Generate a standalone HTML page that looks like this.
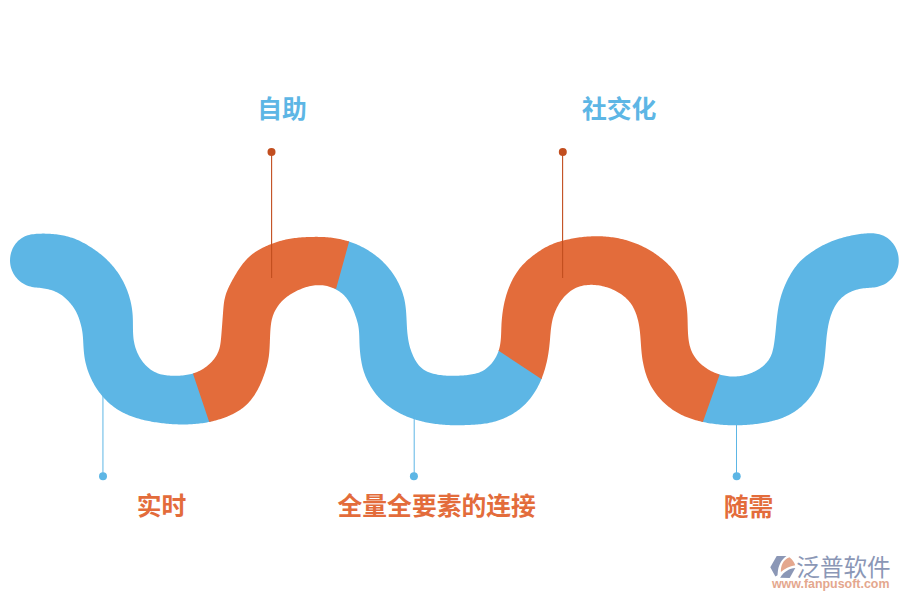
<!DOCTYPE html>
<html><head><meta charset="utf-8"><title>wave</title>
<style>html,body{margin:0;padding:0;background:#fff}body{width:900px;height:600px;overflow:hidden;font-family:"Liberation Sans","Noto Sans CJK SC",sans-serif}svg{display:block}text{font-family:"Liberation Sans","Noto Sans CJK SC",sans-serif}</style>
</head><body>
<svg width="900" height="600" viewBox="0 0 900 600">
<rect width="900" height="600" fill="#fff"/>
<path fill="#5db6e5" d="M211.3 421.49 L209.84 421.81 L208.37 422.11 L206.89 422.39 L205.42 422.66 L203.93 422.9 L202.45 423.13 L200.96 423.33 L199.48 423.52 L197.99 423.69 L196.49 423.85 L195 423.98 L193.5 424.1 L192 424.2 L190.51 424.29 L189.01 424.36 L187.51 424.41 L186.01 424.45 L184.51 424.47 L183.01 424.48 L181.51 424.47 L180 424.45 L178.5 424.41 L177 424.36 L175.51 424.3 L174.01 424.22 L172.51 424.13 L171.01 424.03 L169.51 423.91 L168.02 423.78 L166.53 423.64 L165.03 423.5 L163.54 423.33 L162.05 423.16 L160.56 422.98 L159.07 422.79 L157.58 422.58 L156.1 422.37 L154.62 422.14 L153.14 421.89 L151.66 421.64 L150.18 421.37 L148.71 421.08 L147.24 420.78 L145.77 420.47 L144.31 420.13 L142.85 419.78 L141.39 419.41 L139.94 419.02 L138.5 418.61 L137.06 418.18 L135.63 417.74 L134.2 417.26 L132.79 416.77 L131.38 416.25 L129.98 415.71 L128.59 415.15 L127.21 414.56 L125.84 413.95 L124.48 413.3 L123.14 412.64 L121.81 411.94 L120.49 411.22 L119.19 410.47 L117.91 409.69 L116.65 408.88 L115.4 408.04 L114.18 407.17 L112.98 406.27 L111.79 405.35 L110.63 404.4 L109.49 403.42 L108.38 402.42 L107.28 401.39 L106.21 400.34 L105.16 399.27 L104.13 398.18 L103.13 397.06 L102.15 395.92 L101.19 394.77 L100.26 393.59 L99.35 392.4 L98.46 391.19 L97.6 389.96 L96.76 388.72 L95.94 387.46 L95.15 386.18 L94.38 384.89 L93.64 383.59 L92.92 382.27 L92.23 380.94 L91.56 379.6 L90.92 378.24 L90.3 376.87 L89.71 375.5 L89.14 374.11 L88.6 372.71 L88.09 371.3 L87.6 369.88 L87.14 368.45 L86.71 367.01 L86.3 365.57 L85.92 364.11 L85.57 362.66 L85.25 361.19 L84.96 359.72 L84.7 358.24 L84.46 356.76 L84.26 355.27 L84.08 353.78 L83.92 352.29 L83.78 350.79 L83.66 349.3 L83.55 347.8 L83.46 346.3 L83.37 344.8 L83.29 343.3 L83.21 341.79 L83.13 340.28 L83.04 338.78 L82.93 337.26 L82.8 335.75 L82.65 334.22 L82.47 332.7 L82.24 331.17 L81.98 329.65 L81.66 328.12 L81.3 326.6 L80.92 325.09 L80.51 323.57 L80.09 322.06 L79.64 320.56 L79.16 319.08 L78.65 317.62 L78.11 316.18 L77.53 314.77 L76.91 313.4 L76.25 312.06 L75.55 310.75 L74.8 309.48 L74.02 308.24 L73.2 307.03 L72.34 305.85 L71.44 304.69 L70.52 303.55 L69.56 302.44 L68.57 301.34 L67.55 300.27 L66.49 299.22 L65.41 298.2 L64.28 297.21 L63.13 296.26 L61.93 295.35 L60.71 294.49 L59.44 293.68 L58.13 292.94 L56.79 292.26 L55.43 291.64 L54.03 291.08 L52.62 290.57 L51.19 290.12 L49.75 289.71 L48.29 289.35 L46.82 289.02 L45.35 288.74 L43.87 288.48 L42.39 288.25 L40.9 288.05 L39.41 287.87 L37.92 287.71 L36.43 287.56 L34.93 287.41 L33.45 287.22 L31.97 286.95 L30.51 286.62 L29.06 286.2 L27.65 285.71 L26.26 285.15 L24.9 284.51 L23.57 283.8 L22.29 283.02 L21.06 282.17 L19.87 281.25 L18.74 280.27 L17.67 279.22 L16.65 278.11 L15.7 276.95 L14.82 275.74 L14 274.48 L13.25 273.18 L12.57 271.84 L11.97 270.47 L11.45 269.06 L11 267.63 L10.64 266.17 L10.36 264.7 L10.17 263.21 L10.05 261.71 L10.02 260.21 L10.07 258.72 L10.2 257.22 L10.41 255.74 L10.7 254.27 L11.06 252.82 L11.51 251.39 L12.03 249.98 L12.62 248.61 L13.3 247.28 L14.04 245.99 L14.86 244.75 L15.75 243.56 L16.71 242.42 L17.72 241.35 L18.8 240.34 L19.93 239.39 L21.12 238.52 L22.35 237.72 L23.63 237 L24.96 236.36 L26.32 235.8 L27.72 235.32 L29.14 234.93 L30.59 234.6 L32.05 234.34 L33.53 234.14 L35.02 233.98 L36.51 233.85 L38.01 233.76 L39.51 233.7 L41.01 233.65 L42.52 233.62 L44.02 233.62 L45.53 233.63 L47.03 233.66 L48.54 233.71 L50.04 233.78 L51.54 233.88 L53.03 234 L54.53 234.14 L56.02 234.31 L57.51 234.5 L58.99 234.72 L60.47 234.96 L61.95 235.23 L63.42 235.52 L64.88 235.84 L66.34 236.19 L67.79 236.56 L69.23 236.97 L70.66 237.4 L72.09 237.86 L73.5 238.35 L74.9 238.87 L76.29 239.42 L77.67 240.01 L79.04 240.62 L80.4 241.27 L81.74 241.94 L83.08 242.64 L84.41 243.36 L85.73 244.11 L87.04 244.87 L88.34 245.65 L89.63 246.45 L90.91 247.27 L92.19 248.11 L93.45 248.96 L94.71 249.82 L95.96 250.7 L97.19 251.59 L98.41 252.5 L99.62 253.43 L100.81 254.37 L101.98 255.33 L103.14 256.31 L104.28 257.31 L105.4 258.32 L106.51 259.35 L107.59 260.4 L108.66 261.47 L109.7 262.55 L110.73 263.65 L111.73 264.77 L112.72 265.91 L113.68 267.06 L114.62 268.23 L115.54 269.42 L116.44 270.63 L117.31 271.85 L118.16 273.08 L118.99 274.33 L119.8 275.6 L120.59 276.88 L121.35 278.17 L122.09 279.47 L122.8 280.79 L123.5 282.12 L124.17 283.47 L124.81 284.82 L125.43 286.19 L126.03 287.56 L126.61 288.95 L127.16 290.35 L127.68 291.75 L128.18 293.17 L128.66 294.59 L129.11 296.02 L129.54 297.46 L129.95 298.9 L130.32 300.36 L130.67 301.82 L131 303.28 L131.3 304.75 L131.58 306.23 L131.83 307.71 L132.05 309.19 L132.24 310.68 L132.41 312.17 L132.55 313.66 L132.67 315.16 L132.76 316.66 L132.82 318.16 L132.87 319.66 L132.9 321.16 L132.92 322.66 L132.93 324.16 L132.94 325.66 L132.96 327.16 L132.98 328.66 L133 330.16 L133.04 331.66 L133.1 333.16 L133.19 334.66 L133.29 336.16 L133.43 337.65 L133.6 339.14 L133.82 340.63 L134.07 342.11 L134.37 343.58 L134.71 345.04 L135.1 346.49 L135.54 347.92 L136.02 349.35 L136.54 350.75 L137.11 352.14 L137.72 353.51 L138.37 354.86 L139.07 356.19 L139.81 357.5 L140.59 358.78 L141.42 360.03 L142.29 361.25 L143.2 362.44 L144.16 363.6 L145.16 364.72 L146.21 365.79 L147.29 366.83 L148.42 367.82 L149.59 368.76 L150.8 369.65 L152.05 370.48 L153.33 371.25 L154.65 371.96 L156.01 372.61 L157.39 373.19 L158.8 373.7 L160.24 374.14 L161.69 374.52 L163.16 374.84 L164.63 375.11 L166.12 375.32 L167.61 375.49 L169.1 375.62 L170.6 375.72 L172.1 375.78 L173.6 375.8 L175.1 375.8 L176.6 375.78 L178.1 375.73 L179.6 375.66 L181.1 375.56 L182.59 375.44 L184.09 375.28 L185.58 375.08 L187.06 374.85 L188.53 374.57 L190 374.25 L191.45 373.89 L192.9 373.47 L194.32 373.01ZM348.14 241.25 L349.57 241.71 L350.99 242.2 L352.4 242.71 L353.8 243.24 L355.2 243.79 L356.58 244.37 L357.96 244.97 L359.32 245.59 L360.68 246.24 L362.02 246.91 L363.35 247.6 L364.67 248.31 L365.98 249.05 L367.28 249.81 L368.56 250.59 L369.83 251.39 L371.08 252.21 L372.32 253.06 L373.54 253.93 L374.75 254.82 L375.95 255.73 L377.12 256.66 L378.28 257.61 L379.43 258.58 L380.55 259.58 L381.66 260.59 L382.75 261.62 L383.81 262.68 L384.86 263.75 L385.89 264.84 L386.9 265.96 L387.89 267.09 L388.85 268.24 L389.79 269.4 L390.72 270.59 L391.62 271.79 L392.49 273.01 L393.35 274.24 L394.17 275.49 L394.98 276.76 L395.76 278.04 L396.52 279.34 L397.25 280.65 L397.95 281.97 L398.63 283.31 L399.29 284.66 L399.91 286.02 L400.51 287.4 L401.08 288.79 L401.62 290.19 L402.13 291.6 L402.61 293.02 L403.06 294.45 L403.48 295.89 L403.87 297.34 L404.22 298.8 L404.55 300.27 L404.84 301.74 L405.09 303.22 L405.32 304.7 L405.53 306.19 L405.71 307.68 L405.87 309.17 L406.01 310.67 L406.13 312.16 L406.24 313.66 L406.33 315.16 L406.42 316.65 L406.5 318.15 L406.57 319.65 L406.65 321.15 L406.72 322.65 L406.79 324.15 L406.87 325.65 L406.96 327.14 L407.05 328.64 L407.15 330.14 L407.27 331.64 L407.41 333.13 L407.56 334.62 L407.74 336.11 L407.93 337.6 L408.16 339.09 L408.41 340.57 L408.69 342.04 L409 343.52 L409.35 344.98 L409.73 346.44 L410.14 347.89 L410.59 349.33 L411.08 350.77 L411.6 352.19 L412.16 353.61 L412.75 355.01 L413.38 356.4 L414.04 357.78 L414.74 359.13 L415.49 360.46 L416.28 361.76 L417.12 363.02 L418.01 364.24 L418.97 365.4 L419.98 366.51 L421.06 367.55 L422.21 368.52 L423.42 369.42 L424.69 370.24 L426.01 370.99 L427.39 371.66 L428.8 372.25 L430.24 372.78 L431.71 373.25 L433.19 373.66 L434.69 374.03 L436.19 374.35 L437.69 374.63 L439.19 374.88 L440.7 375.09 L442.2 375.28 L443.7 375.43 L445.2 375.56 L446.71 375.67 L448.21 375.75 L449.71 375.8 L451.21 375.83 L452.71 375.83 L454.22 375.82 L455.72 375.78 L457.22 375.73 L458.72 375.67 L460.21 375.58 L461.71 375.49 L463.21 375.39 L464.71 375.27 L466.2 375.14 L467.69 374.99 L469.18 374.82 L470.67 374.61 L472.15 374.37 L473.63 374.09 L475.09 373.75 L476.54 373.36 L477.97 372.92 L479.38 372.4 L480.76 371.82 L482.11 371.16 L483.42 370.43 L484.69 369.63 L485.92 368.77 L487.1 367.85 L488.24 366.87 L489.34 365.84 L490.38 364.77 L491.39 363.65 L492.34 362.49 L493.25 361.3 L494.11 360.07 L494.91 358.8 L495.67 357.51 L496.38 356.18 L497.04 354.83 L497.64 353.46 L498.19 352.06 L498.68 350.65 L499.11 349.21 L541.78 378.14 L541.22 379.53 L540.63 380.91 L540.02 382.28 L539.39 383.65 L538.73 385 L538.05 386.33 L537.35 387.66 L536.62 388.97 L535.87 390.27 L535.09 391.55 L534.29 392.82 L533.46 394.07 L532.61 395.31 L531.73 396.52 L530.82 397.72 L529.89 398.9 L528.94 400.05 L527.95 401.19 L526.95 402.3 L525.91 403.39 L524.85 404.45 L523.77 405.49 L522.66 406.5 L521.53 407.49 L520.37 408.44 L519.2 409.38 L518 410.28 L516.78 411.16 L515.55 412.01 L514.3 412.84 L513.02 413.64 L511.74 414.41 L510.43 415.15 L509.12 415.87 L507.78 416.56 L506.44 417.22 L505.08 417.85 L503.7 418.46 L502.32 419.03 L500.92 419.58 L499.51 420.1 L498.09 420.59 L496.66 421.05 L495.23 421.48 L493.78 421.87 L492.32 422.24 L490.86 422.57 L489.39 422.87 L487.91 423.15 L486.43 423.4 L484.95 423.62 L483.46 423.82 L481.97 424 L480.48 424.16 L478.99 424.3 L477.49 424.43 L475.99 424.54 L474.5 424.65 L473 424.74 L471.5 424.83 L470 424.91 L468.5 424.98 L467 425.05 L465.5 425.1 L464 425.15 L462.5 425.19 L461 425.22 L459.5 425.24 L458 425.25 L456.5 425.25 L455 425.23 L453.5 425.21 L452 425.17 L450.5 425.13 L449 425.07 L447.5 424.99 L446 424.91 L444.51 424.81 L443.01 424.7 L441.51 424.57 L440.02 424.43 L438.53 424.27 L437.04 424.1 L435.55 423.91 L434.06 423.71 L432.58 423.49 L431.09 423.25 L429.62 423 L428.14 422.73 L426.67 422.44 L425.2 422.14 L423.73 421.81 L422.27 421.47 L420.82 421.11 L419.36 420.72 L417.92 420.32 L416.48 419.9 L415.04 419.46 L413.61 419 L412.19 418.52 L410.78 418.02 L409.37 417.49 L407.97 416.95 L406.58 416.38 L405.2 415.8 L403.83 415.19 L402.47 414.56 L401.12 413.91 L399.78 413.23 L398.45 412.53 L397.13 411.81 L395.83 411.07 L394.54 410.3 L393.26 409.51 L392 408.7 L390.76 407.86 L389.53 406.99 L388.32 406.1 L387.13 405.19 L385.96 404.25 L384.81 403.28 L383.68 402.29 L382.57 401.28 L381.48 400.24 L380.42 399.17 L379.38 398.08 L378.37 396.96 L377.38 395.81 L376.42 394.65 L375.48 393.46 L374.57 392.25 L373.68 391.02 L372.81 389.77 L371.97 388.5 L371.15 387.21 L370.36 385.91 L369.59 384.59 L368.85 383.26 L368.13 381.91 L367.44 380.56 L366.78 379.19 L366.16 377.8 L365.56 376.41 L365 375.01 L364.47 373.6 L363.98 372.18 L363.53 370.76 L363.1 369.32 L362.71 367.88 L362.35 366.43 L362.02 364.98 L361.71 363.52 L361.44 362.06 L361.18 360.59 L360.94 359.11 L360.73 357.64 L360.53 356.16 L360.35 354.67 L360.19 353.19 L360.04 351.7 L359.9 350.2 L359.78 348.71 L359.68 347.22 L359.59 345.72 L359.52 344.22 L359.46 342.72 L359.42 341.22 L359.38 339.72 L359.33 338.22 L359.29 336.72 L359.23 335.22 L359.16 333.72 L359.06 332.23 L358.94 330.73 L358.79 329.24 L358.6 327.75 L358.36 326.27 L358.08 324.79 L357.75 323.33 L357.37 321.88 L356.96 320.43 L356.52 319 L356.06 317.57 L355.58 316.15 L355.08 314.73 L354.57 313.32 L354.04 311.92 L353.48 310.53 L352.9 309.14 L352.29 307.77 L351.65 306.41 L350.97 305.07 L350.26 303.75 L349.51 302.45 L348.72 301.18 L347.88 299.93 L347 298.72 L346.07 297.54 L345.08 296.41 L344.05 295.33 L342.96 294.29 L341.83 293.31 L340.65 292.38 L339.43 291.5 L338.18 290.67 L336.89 289.9 L335.57 289.19 L334.22 288.53ZM718.28 374.06 L719.71 374.51 L721.15 374.92 L722.61 375.28 L724.07 375.6 L725.55 375.87 L727.03 376.09 L728.52 376.27 L730.02 376.39 L731.52 376.48 L733.02 376.51 L734.52 376.5 L736.02 376.44 L737.52 376.33 L739.01 376.18 L740.49 375.97 L741.97 375.73 L743.45 375.43 L744.91 375.09 L746.36 374.71 L747.8 374.27 L749.22 373.8 L750.63 373.27 L752.02 372.71 L753.39 372.1 L754.74 371.45 L756.07 370.76 L757.38 370.02 L758.66 369.24 L759.91 368.42 L761.14 367.55 L762.32 366.63 L763.48 365.67 L764.58 364.66 L765.65 363.6 L766.66 362.49 L767.61 361.33 L768.51 360.13 L769.34 358.87 L770.09 357.58 L770.77 356.24 L771.37 354.86 L771.89 353.45 L772.34 352.02 L772.73 350.58 L773.08 349.12 L773.39 347.65 L773.66 346.17 L773.91 344.69 L774.15 343.21 L774.37 341.73 L774.58 340.24 L774.77 338.75 L774.95 337.26 L775.12 335.77 L775.29 334.28 L775.44 332.79 L775.6 331.29 L775.74 329.8 L775.88 328.31 L776.02 326.81 L776.17 325.32 L776.31 323.82 L776.45 322.33 L776.6 320.84 L776.76 319.34 L776.92 317.85 L777.09 316.36 L777.27 314.87 L777.46 313.38 L777.66 311.9 L777.88 310.41 L778.12 308.93 L778.37 307.45 L778.64 305.97 L778.93 304.5 L779.24 303.03 L779.58 301.57 L779.94 300.11 L780.32 298.66 L780.72 297.21 L781.14 295.78 L781.59 294.34 L782.05 292.92 L782.54 291.5 L783.05 290.08 L783.58 288.68 L784.13 287.29 L784.7 285.9 L785.3 284.52 L785.91 283.15 L786.55 281.79 L787.21 280.44 L787.88 279.1 L788.58 277.78 L789.3 276.46 L790.04 275.15 L790.8 273.86 L791.59 272.58 L792.39 271.31 L793.21 270.06 L794.06 268.82 L794.93 267.59 L795.82 266.39 L796.74 265.2 L797.69 264.04 L798.67 262.91 L799.69 261.8 L800.74 260.73 L801.83 259.7 L802.95 258.7 L804.09 257.72 L805.26 256.78 L806.44 255.86 L807.64 254.96 L808.85 254.07 L810.07 253.2 L811.3 252.34 L812.54 251.49 L813.78 250.65 L815.04 249.83 L816.31 249.03 L817.59 248.25 L818.89 247.49 L820.19 246.75 L821.51 246.04 L822.84 245.34 L824.18 244.67 L825.54 244.02 L826.9 243.38 L828.27 242.77 L829.65 242.18 L831.03 241.61 L832.43 241.06 L833.83 240.53 L835.24 240.02 L836.66 239.53 L838.09 239.05 L839.52 238.6 L840.95 238.16 L842.4 237.75 L843.84 237.35 L845.29 236.97 L846.75 236.61 L848.21 236.26 L849.68 235.93 L851.14 235.62 L852.61 235.32 L854.09 235.04 L855.57 234.78 L857.05 234.53 L858.53 234.3 L860.01 234.08 L861.5 233.87 L862.99 233.69 L864.48 233.52 L865.98 233.39 L867.47 233.29 L868.97 233.22 L870.47 233.2 L871.97 233.23 L873.47 233.31 L874.97 233.45 L876.45 233.66 L877.93 233.94 L879.38 234.29 L880.82 234.73 L882.23 235.24 L883.6 235.85 L884.94 236.53 L886.23 237.29 L887.48 238.12 L888.68 239.03 L889.82 240 L890.9 241.04 L891.92 242.14 L892.88 243.3 L893.76 244.51 L894.58 245.76 L895.33 247.07 L896.01 248.4 L896.61 249.78 L897.14 251.18 L897.6 252.61 L897.97 254.06 L898.28 255.53 L898.5 257.02 L898.65 258.51 L898.72 260.01 L898.71 261.51 L898.61 263.01 L898.43 264.5 L898.17 265.97 L897.82 267.43 L897.39 268.87 L896.88 270.28 L896.29 271.66 L895.62 273 L894.88 274.31 L894.07 275.57 L893.19 276.79 L892.25 277.96 L891.24 279.07 L890.17 280.12 L889.04 281.11 L887.86 282.03 L886.63 282.89 L885.35 283.67 L884.03 284.39 L882.67 285.04 L881.29 285.61 L879.88 286.12 L878.44 286.56 L876.99 286.92 L875.51 287.22 L874.03 287.44 L872.54 287.61 L871.04 287.74 L869.55 287.84 L868.05 287.93 L866.55 288.02 L865.06 288.14 L863.56 288.29 L862.08 288.49 L860.6 288.74 L859.13 289.04 L857.67 289.39 L856.22 289.79 L854.79 290.24 L853.37 290.74 L851.98 291.29 L850.6 291.9 L849.25 292.55 L847.93 293.26 L846.63 294.01 L845.37 294.83 L844.15 295.7 L842.97 296.63 L841.84 297.61 L840.75 298.65 L839.72 299.73 L838.73 300.86 L837.8 302.04 L836.91 303.25 L836.07 304.5 L835.29 305.77 L834.54 307.08 L833.84 308.4 L833.19 309.75 L832.57 311.12 L832 312.51 L831.46 313.91 L830.95 315.32 L830.48 316.75 L830.05 318.18 L829.64 319.63 L829.26 321.08 L828.91 322.54 L828.58 324 L828.28 325.47 L828.01 326.95 L827.75 328.43 L827.51 329.91 L827.29 331.39 L827.09 332.88 L826.91 334.37 L826.73 335.86 L826.57 337.35 L826.42 338.85 L826.28 340.34 L826.14 341.83 L826.01 343.33 L825.89 344.83 L825.76 346.32 L825.64 347.82 L825.51 349.31 L825.39 350.81 L825.25 352.3 L825.12 353.8 L824.97 355.29 L824.82 356.78 L824.65 358.27 L824.47 359.76 L824.28 361.25 L824.07 362.74 L823.84 364.22 L823.59 365.7 L823.33 367.18 L823.04 368.65 L822.72 370.12 L822.38 371.58 L822.01 373.03 L821.62 374.48 L821.19 375.92 L820.73 377.35 L820.23 378.77 L819.71 380.17 L819.15 381.56 L818.56 382.94 L817.94 384.31 L817.28 385.66 L816.6 387 L815.89 388.32 L815.15 389.62 L814.38 390.91 L813.58 392.18 L812.75 393.44 L811.9 394.67 L811.02 395.89 L810.12 397.09 L809.19 398.26 L808.23 399.42 L807.25 400.56 L806.25 401.67 L805.22 402.76 L804.16 403.83 L803.08 404.87 L801.98 405.89 L800.86 406.89 L799.71 407.85 L798.54 408.79 L797.35 409.7 L796.13 410.59 L794.9 411.44 L793.64 412.26 L792.37 413.05 L791.07 413.8 L789.76 414.53 L788.42 415.22 L787.07 415.87 L785.71 416.5 L784.33 417.1 L782.94 417.66 L781.54 418.2 L780.13 418.71 L778.71 419.19 L777.28 419.65 L775.84 420.08 L774.4 420.49 L772.95 420.87 L771.49 421.24 L770.03 421.58 L768.56 421.9 L767.09 422.21 L765.62 422.49 L764.15 422.76 L762.67 423.01 L761.18 423.25 L759.7 423.47 L758.21 423.68 L756.73 423.88 L755.24 424.07 L753.75 424.24 L752.25 424.4 L750.76 424.55 L749.27 424.68 L747.77 424.8 L746.27 424.91 L744.78 425 L743.28 425.08 L741.78 425.15 L740.28 425.2 L738.78 425.24 L737.28 425.27 L735.78 425.28 L734.28 425.28 L732.78 425.27 L731.27 425.24 L729.77 425.19 L728.28 425.14 L726.78 425.07 L725.28 424.98 L723.78 424.88 L722.28 424.77 L720.79 424.65 L719.29 424.51 L717.8 424.35 L716.31 424.19 L714.82 424.01 L713.33 423.81 L711.85 423.6 L710.36 423.38 L708.88 423.14 L707.4 422.88 L705.93 422.61 L704.45 422.32 L702.98 422.01 L701.52 421.68Z"/>
<path fill="#e36c3b" d="M193 373.7 L194.32 373.01 L195.74 372.5 L197.13 371.94 L198.5 371.34 L199.85 370.68 L201.18 369.98 L202.48 369.24 L203.76 368.45 L205.01 367.62 L206.23 366.75 L207.42 365.83 L208.57 364.87 L209.69 363.86 L210.76 362.82 L211.8 361.74 L212.8 360.61 L213.74 359.45 L214.64 358.25 L215.49 357.01 L216.29 355.74 L217.02 354.43 L217.7 353.09 L218.3 351.72 L218.83 350.31 L219.29 348.89 L219.68 347.44 L220.01 345.97 L220.29 344.5 L220.52 343.01 L220.72 341.53 L220.88 340.04 L221.03 338.54 L221.17 337.05 L221.3 335.55 L221.42 334.06 L221.54 332.56 L221.66 331.07 L221.78 329.57 L221.9 328.07 L222.01 326.58 L222.13 325.08 L222.24 323.59 L222.35 322.09 L222.46 320.6 L222.57 319.11 L222.68 317.61 L222.79 316.12 L222.89 314.63 L223 313.14 L223.1 311.65 L223.22 310.17 L223.34 308.68 L223.47 307.2 L223.61 305.72 L223.78 304.24 L223.98 302.77 L224.2 301.3 L224.47 299.84 L224.78 298.38 L225.13 296.92 L225.53 295.47 L225.97 294.03 L226.47 292.6 L227.01 291.17 L227.58 289.75 L228.2 288.34 L228.85 286.94 L229.52 285.55 L230.22 284.17 L230.93 282.79 L231.66 281.43 L232.4 280.07 L233.15 278.72 L233.91 277.39 L234.68 276.06 L235.46 274.74 L236.26 273.42 L237.06 272.12 L237.88 270.83 L238.71 269.55 L239.56 268.28 L240.43 267.02 L241.31 265.78 L242.22 264.55 L243.15 263.35 L244.1 262.17 L245.08 261.01 L246.08 259.89 L247.12 258.79 L248.19 257.73 L249.28 256.7 L250.41 255.72 L251.57 254.76 L252.76 253.85 L253.97 252.96 L255.21 252.11 L256.47 251.3 L257.76 250.51 L259.06 249.75 L260.38 249.02 L261.71 248.31 L263.06 247.62 L264.41 246.96 L265.78 246.31 L267.16 245.69 L268.54 245.09 L269.94 244.51 L271.34 243.94 L272.75 243.4 L274.16 242.89 L275.58 242.39 L277.01 241.92 L278.45 241.48 L279.89 241.05 L281.34 240.65 L282.79 240.28 L284.25 239.93 L285.72 239.6 L287.19 239.3 L288.66 239.01 L290.14 238.75 L291.62 238.51 L293.11 238.29 L294.6 238.09 L296.09 237.91 L297.58 237.74 L299.07 237.59 L300.57 237.46 L302.06 237.34 L303.56 237.24 L305.06 237.15 L306.56 237.08 L308.05 237.02 L309.55 236.97 L311.06 236.93 L312.56 236.9 L314.06 236.88 L315.56 236.87 L317.06 236.87 L318.56 236.88 L320.06 236.91 L321.56 236.95 L323.06 237.01 L324.56 237.09 L326.06 237.18 L327.55 237.29 L329.05 237.42 L330.54 237.57 L332.03 237.75 L333.52 237.94 L335 238.17 L336.48 238.41 L337.96 238.68 L339.43 238.98 L340.9 239.3 L342.36 239.64 L343.81 240.01 L345.26 240.4 L346.7 240.81 L348.14 241.25 L349.2 241.3 L336.1 288.8 L334.22 288.53 L332.85 287.93 L331.45 287.39 L330.03 286.9 L328.59 286.48 L327.13 286.11 L325.67 285.8 L324.19 285.55 L322.7 285.37 L321.2 285.24 L319.7 285.18 L318.2 285.18 L316.7 285.23 L315.2 285.35 L313.71 285.52 L312.22 285.74 L310.74 286.01 L309.26 286.33 L307.8 286.69 L306.34 287.1 L304.9 287.55 L303.46 288.04 L302.04 288.56 L300.63 289.13 L299.22 289.73 L297.83 290.36 L296.45 291.02 L295.09 291.72 L293.73 292.44 L292.39 293.2 L291.08 293.99 L289.78 294.82 L288.5 295.67 L287.26 296.57 L286.05 297.5 L284.87 298.47 L283.73 299.48 L282.64 300.52 L281.58 301.6 L280.57 302.71 L279.61 303.85 L278.69 305.02 L277.82 306.21 L277 307.44 L276.22 308.7 L275.49 309.98 L274.81 311.28 L274.18 312.61 L273.6 313.97 L273.07 315.35 L272.6 316.75 L272.18 318.17 L271.82 319.61 L271.51 321.06 L271.24 322.52 L271.02 324 L270.83 325.48 L270.66 326.96 L270.53 328.45 L270.41 329.94 L270.31 331.44 L270.22 332.93 L270.15 334.43 L270.08 335.93 L270.02 337.43 L269.96 338.92 L269.9 340.42 L269.85 341.92 L269.79 343.42 L269.72 344.92 L269.65 346.42 L269.57 347.92 L269.48 349.42 L269.37 350.91 L269.25 352.41 L269.1 353.9 L268.94 355.39 L268.74 356.88 L268.53 358.37 L268.28 359.85 L268 361.32 L267.69 362.79 L267.34 364.25 L266.97 365.7 L266.57 367.15 L266.15 368.59 L265.7 370.02 L265.25 371.45 L264.78 372.88 L264.29 374.3 L263.79 375.71 L263.28 377.12 L262.75 378.53 L262.2 379.92 L261.63 381.31 L261.04 382.69 L260.44 384.07 L259.81 385.43 L259.16 386.78 L258.49 388.12 L257.79 389.45 L257.07 390.77 L256.32 392.07 L255.55 393.36 L254.75 394.63 L253.92 395.88 L253.07 397.11 L252.18 398.32 L251.26 399.51 L250.31 400.67 L249.33 401.81 L248.32 402.92 L247.28 404 L246.2 405.04 L245.09 406.05 L243.95 407.03 L242.78 407.97 L241.58 408.87 L240.36 409.74 L239.11 410.57 L237.83 411.36 L236.54 412.12 L235.23 412.85 L233.9 413.55 L232.56 414.22 L231.2 414.86 L229.83 415.48 L228.46 416.07 L227.07 416.64 L225.67 417.18 L224.26 417.7 L222.84 418.2 L221.42 418.68 L219.99 419.14 L218.56 419.58 L217.12 420 L215.67 420.4 L214.22 420.79 L212.76 421.15 L211.3 421.49 L209.2 422ZM498.6 350.8 L499.11 349.21 L499.49 347.76 L499.82 346.29 L500.1 344.82 L500.34 343.34 L500.54 341.85 L500.71 340.36 L500.84 338.86 L500.95 337.37 L501.03 335.87 L501.11 334.37 L501.16 332.87 L501.22 331.37 L501.26 329.87 L501.31 328.37 L501.37 326.87 L501.43 325.37 L501.5 323.87 L501.6 322.37 L501.7 320.88 L501.82 319.38 L501.96 317.89 L502.11 316.39 L502.28 314.9 L502.46 313.41 L502.67 311.93 L502.89 310.44 L503.12 308.96 L503.38 307.48 L503.65 306.01 L503.94 304.53 L504.25 303.07 L504.58 301.6 L504.93 300.14 L505.3 298.69 L505.69 297.24 L506.1 295.8 L506.54 294.36 L506.99 292.93 L507.47 291.5 L507.96 290.09 L508.48 288.68 L509.03 287.28 L509.59 285.89 L510.18 284.51 L510.8 283.15 L511.43 281.79 L512.1 280.44 L512.78 279.11 L513.5 277.79 L514.23 276.49 L515 275.2 L515.79 273.93 L516.6 272.68 L517.45 271.45 L518.32 270.23 L519.21 269.04 L520.14 267.87 L521.09 266.73 L522.06 265.61 L523.07 264.51 L524.1 263.43 L525.15 262.38 L526.23 261.35 L527.33 260.34 L528.45 259.36 L529.59 258.39 L530.75 257.44 L531.92 256.51 L533.1 255.59 L534.3 254.69 L535.51 253.8 L536.73 252.93 L537.96 252.07 L539.2 251.23 L540.46 250.41 L541.72 249.61 L542.99 248.83 L544.28 248.08 L545.58 247.35 L546.89 246.65 L548.22 245.98 L549.56 245.34 L550.91 244.73 L552.28 244.15 L553.66 243.6 L555.05 243.07 L556.45 242.58 L557.87 242.11 L559.29 241.66 L560.72 241.24 L562.16 240.84 L563.61 240.47 L565.06 240.11 L566.52 239.76 L567.99 239.44 L569.45 239.13 L570.92 238.83 L572.4 238.55 L573.87 238.29 L575.35 238.04 L576.83 237.8 L578.32 237.58 L579.8 237.37 L581.29 237.19 L582.78 237.01 L584.28 236.86 L585.77 236.72 L587.26 236.59 L588.76 236.49 L590.26 236.4 L591.76 236.33 L593.26 236.27 L594.76 236.24 L596.26 236.22 L597.76 236.23 L599.26 236.25 L600.76 236.29 L602.26 236.35 L603.76 236.43 L605.26 236.53 L606.75 236.65 L608.25 236.79 L609.74 236.95 L611.23 237.14 L612.71 237.34 L614.2 237.56 L615.68 237.81 L617.16 238.08 L618.63 238.36 L620.1 238.67 L621.56 239.01 L623.02 239.36 L624.47 239.73 L625.92 240.12 L627.36 240.54 L628.8 240.97 L630.23 241.43 L631.65 241.91 L633.07 242.4 L634.48 242.92 L635.88 243.46 L637.27 244.02 L638.65 244.6 L640.03 245.21 L641.39 245.83 L642.75 246.47 L644.1 247.14 L645.43 247.82 L646.76 248.53 L648.07 249.26 L649.37 250 L650.66 250.77 L651.94 251.56 L653.21 252.37 L654.46 253.2 L655.7 254.05 L656.93 254.92 L658.15 255.81 L659.35 256.72 L660.55 257.65 L661.72 258.6 L662.89 259.56 L664.03 260.54 L665.17 261.54 L666.28 262.56 L667.38 263.6 L668.45 264.66 L669.51 265.75 L670.53 266.85 L671.53 267.98 L672.5 269.13 L673.43 270.3 L674.33 271.51 L675.19 272.74 L676.02 273.99 L676.8 275.27 L677.54 276.58 L678.25 277.9 L678.92 279.25 L679.55 280.62 L680.16 282.01 L680.72 283.41 L681.27 284.83 L681.78 286.26 L682.27 287.69 L682.73 289.14 L683.17 290.59 L683.59 292.05 L683.99 293.51 L684.36 294.98 L684.72 296.45 L685.05 297.92 L685.37 299.4 L685.66 300.88 L685.94 302.36 L686.19 303.84 L686.42 305.33 L686.62 306.82 L686.81 308.31 L686.97 309.8 L687.12 311.3 L687.24 312.8 L687.34 314.3 L687.42 315.79 L687.49 317.29 L687.54 318.79 L687.59 320.29 L687.63 321.79 L687.67 323.29 L687.7 324.79 L687.74 326.29 L687.78 327.79 L687.83 329.29 L687.89 330.79 L687.96 332.29 L688.04 333.79 L688.15 335.29 L688.28 336.78 L688.44 338.28 L688.62 339.77 L688.84 341.25 L689.1 342.73 L689.4 344.2 L689.74 345.66 L690.14 347.11 L690.58 348.54 L691.08 349.96 L691.64 351.35 L692.26 352.72 L692.94 354.05 L693.69 355.36 L694.49 356.62 L695.34 357.86 L696.25 359.05 L697.21 360.21 L698.2 361.33 L699.24 362.41 L700.32 363.46 L701.43 364.46 L702.58 365.43 L703.75 366.37 L704.96 367.26 L706.19 368.12 L707.45 368.94 L708.73 369.72 L710.04 370.46 L711.36 371.16 L712.71 371.82 L714.08 372.44 L715.46 373.02 L716.86 373.56 L718.28 374.06 L719.6 374.7 L702.9 422 L701.52 421.68 L700.06 421.34 L698.6 420.98 L697.15 420.59 L695.71 420.19 L694.27 419.76 L692.83 419.32 L691.41 418.85 L689.99 418.35 L688.58 417.84 L687.18 417.3 L685.79 416.74 L684.41 416.15 L683.04 415.53 L681.68 414.89 L680.33 414.22 L679 413.53 L677.68 412.8 L676.37 412.05 L675.08 411.27 L673.81 410.47 L672.56 409.63 L671.32 408.77 L670.1 407.87 L668.9 406.95 L667.73 406 L666.57 405.03 L665.43 404.03 L664.32 403 L663.22 401.95 L662.15 400.88 L661.1 399.79 L660.08 398.68 L659.07 397.55 L658.09 396.39 L657.14 395.22 L656.21 394.03 L655.31 392.82 L654.44 391.59 L653.6 390.34 L652.78 389.08 L652 387.79 L651.25 386.49 L650.54 385.17 L649.85 383.84 L649.2 382.49 L648.58 381.12 L647.98 379.74 L647.42 378.35 L646.89 376.94 L646.39 375.52 L645.92 374.09 L645.47 372.65 L645.04 371.2 L644.64 369.74 L644.27 368.28 L643.91 366.81 L643.58 365.34 L643.27 363.86 L642.98 362.37 L642.71 360.89 L642.47 359.39 L642.24 357.9 L642.04 356.41 L641.86 354.91 L641.69 353.41 L641.54 351.91 L641.4 350.41 L641.27 348.91 L641.15 347.41 L641.04 345.91 L640.94 344.42 L640.84 342.92 L640.73 341.42 L640.63 339.92 L640.52 338.42 L640.41 336.92 L640.28 335.43 L640.15 333.93 L640 332.44 L639.84 330.95 L639.65 329.46 L639.45 327.97 L639.23 326.49 L638.98 325.01 L638.71 323.53 L638.41 322.06 L638.08 320.6 L637.72 319.14 L637.32 317.69 L636.9 316.25 L636.43 314.83 L635.93 313.41 L635.39 312.01 L634.8 310.63 L634.18 309.27 L633.5 307.93 L632.78 306.61 L632.01 305.32 L631.18 304.07 L630.31 302.85 L629.38 301.67 L628.4 300.53 L627.38 299.44 L626.32 298.38 L625.21 297.36 L624.07 296.39 L622.89 295.46 L621.68 294.57 L620.45 293.72 L619.18 292.91 L617.89 292.14 L616.58 291.41 L615.25 290.72 L613.9 290.07 L612.53 289.45 L611.15 288.87 L609.75 288.33 L608.33 287.83 L606.91 287.36 L605.47 286.92 L604.02 286.53 L602.57 286.17 L601.1 285.86 L599.62 285.58 L598.14 285.34 L596.65 285.15 L595.16 285 L593.66 284.9 L592.16 284.84 L590.66 284.84 L589.16 284.88 L587.67 284.98 L586.17 285.13 L584.69 285.33 L583.21 285.6 L581.75 285.93 L580.3 286.32 L578.87 286.77 L577.46 287.29 L576.07 287.87 L574.72 288.52 L573.4 289.24 L572.12 290.01 L570.87 290.85 L569.66 291.73 L568.49 292.67 L567.35 293.65 L566.26 294.68 L565.2 295.75 L564.19 296.85 L563.21 297.99 L562.27 299.16 L561.36 300.36 L560.5 301.58 L559.67 302.83 L558.88 304.11 L558.13 305.4 L557.41 306.72 L556.73 308.06 L556.08 309.42 L555.48 310.79 L554.91 312.18 L554.37 313.58 L553.88 315 L553.42 316.43 L553.01 317.87 L552.63 319.32 L552.29 320.78 L551.98 322.25 L551.7 323.73 L551.46 325.21 L551.24 326.69 L551.04 328.18 L550.86 329.67 L550.7 331.16 L550.56 332.65 L550.42 334.15 L550.29 335.64 L550.17 337.14 L550.05 338.64 L549.93 340.13 L549.8 341.63 L549.67 343.12 L549.52 344.61 L549.36 346.11 L549.19 347.6 L549 349.09 L548.8 350.57 L548.59 352.06 L548.36 353.54 L548.11 355.02 L547.85 356.5 L547.57 357.97 L547.28 359.45 L546.96 360.91 L546.63 362.38 L546.29 363.84 L545.92 365.29 L545.54 366.75 L545.14 368.19 L544.72 369.63 L544.28 371.07 L543.82 372.5 L543.34 373.92 L542.84 375.33 L542.32 376.74 L541.78 378.14 L541.7 379.2Z"/>
<path d="M271.6 152V277.9M562.6 152V277.9" stroke="#c24e1f" stroke-width="1.1" fill="none"/><circle cx="271.5" cy="152.1" r="4.0" fill="#c24e1f"/><circle cx="562.8" cy="152" r="4.0" fill="#c24e1f"/><path d="M102.95 390V476M414.2 412V476M736.5 418V476" stroke="#5db6e5" stroke-width="1" fill="none"/><circle cx="103" cy="476.2" r="4.0" fill="#5db6e5"/><circle cx="413.9" cy="476.25" r="4.0" fill="#5db6e5"/><circle cx="736.7" cy="476.25" r="4.0" fill="#5db6e5"/>
<text x="257.3" y="118.2" font-size="24.8" font-weight="bold" fill="#5db6e5">自助</text><text x="581.9" y="118.3" font-size="24.8" font-weight="bold" fill="#5db6e5">社交化</text><text x="136.7" y="515.2" font-size="24.8" font-weight="bold" fill="#e36c3b">实时</text><text x="337.5" y="515.2" font-size="24.8" font-weight="bold" fill="#e36c3b">全量全要素的连接</text><text x="723.8" y="515.6" font-size="24.8" font-weight="bold" fill="#e36c3b">随需</text>
<g>
<path fill="#8b97b6" d="M770.3 567.2L776.7 556.1L786.5 556.1C782 559 779 564.5 778 570.3C777.8 572 777.6 574 777.5 575.3L775.4 576.6Z"/>
<path fill="#e4a78e" d="M780.9 572.1C780.6 566 783 559.5 789.5 557.2C792.3 559.5 794.3 562.3 795.2 565.2C789.5 566 784.5 568.5 780.9 572.1Z"/>
<path fill="#8b97b6" d="M795.3 568.1C789.5 568.6 784 571.5 780.1 577.7L789.7 578Z"/>
<text x="796.3" y="576.2" font-size="23.6" fill="#8b97b6">泛普软件</text><text x="771.9" y="587.6" font-size="12.0" font-weight="bold" font-family="'Liberation Serif','Noto Serif CJK SC',serif" fill="#e4a78e" textLength="117.6" lengthAdjust="spacingAndGlyphs">www.fanpusoft.com</text>
</g>
</svg>
</body></html>
